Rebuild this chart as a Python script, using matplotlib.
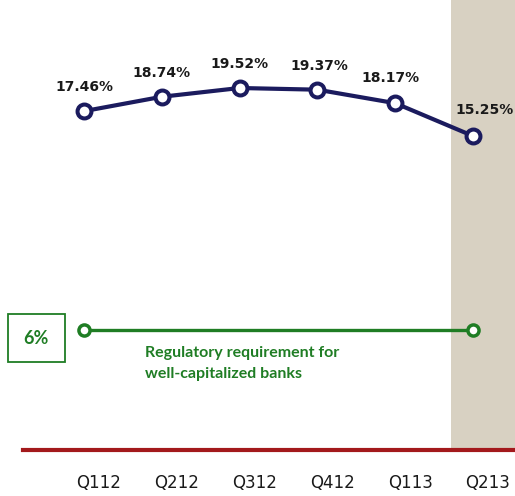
import matplotlib
matplotlib.use("Agg")
import matplotlib.pyplot as plt
import matplotlib.transforms as mtransforms
from matplotlib.patches import Rectangle

quarters = ["Q112", "Q212", "Q312", "Q412", "Q113", "Q213"]
ratio = [17.46, 18.74, 19.52, 19.37, 18.17, 15.25]
reg_x = [0, 5]
reg_y = [6, 6]
reg_label = "6%"
reg_text = "Regulatory requirement for\nwell-capitalized banks"

navy = "#1b1b5e"
green = "#1f7d24"
darkred = "#a3191c"
beige = "#d8d1c2"

fig = plt.figure(figsize=(5.15, 4.96), dpi=100)
W, H = 515, 496

# main axes: from red line up to the top of the figure
ax = fig.add_axes([23 / W, 46 / H, 492 / W, 450 / H])
ax.set_xlim(-0.784, 5.54)
ax.set_ylim(-12.69, 27.35)
ax.axvspan(4.717, 5.54, color=beige, zorder=0, lw=0)

x = list(range(len(quarters)))
ax.plot(x, ratio, color=navy, lw=3, marker="o", ms=10, mfc="white",
        mec=navy, mew=2.9, zorder=3)

offsets = [(0, 24), (0, 24), (0, 24), (2, 24), (-5, 25), (12, 26)]
for xi, v, off in zip(x, ratio, offsets):
    ax.annotate(f"{v:.2f}%", (xi, v), xytext=off, textcoords="offset pixels",
                ha="center", va="center", fontsize=10, fontweight="bold",
                color="#1a1a1a")

for s in ["top", "left", "right"]:
    ax.spines[s].set_visible(False)
ax.spines["bottom"].set_color(darkred)
ax.spines["bottom"].set_linewidth(3)
ax.set_yticks([])
ax.set_xticks(x)
ax.set_xticklabels(quarters, fontsize=12, color="#1a1a1a")
ax.tick_params(axis="x", length=0, pad=17)
shift = mtransforms.ScaledTranslation(15 / 100, 0, fig.dpi_scale_trans)
for lbl in ax.get_xticklabels():
    lbl.set_transform(lbl.get_transform() + shift)
ax.patch.set_alpha(0)

# regulatory line, drawn on its own (broken) scale
ax2 = fig.add_axes([23 / W, 46 / H, 492 / W, 200 / H])
ax2.set_xlim(-0.784, 5.54)
ax2.set_ylim(0, 10)
ax2.axis("off")
ax2.plot(reg_x, reg_y, color=green, lw=2.4, marker="o", ms=8, mfc="white",
         mec=green, mew=2.5, zorder=3)
ax2.text((145 - 23) / 492, (450 - 346) / 200, reg_text, transform=ax2.transAxes,
         ha="left", va="top", fontsize=11.5, fontweight="bold", color=green,
         family=["Lato", "DejaVu Sans"], linespacing=1.6)

fig.patches.append(Rectangle((8 / W, (H - 362) / H), 57 / W, 48 / H,
                             transform=fig.transFigure, fill=False,
                             edgecolor=green, lw=1.3))
fig.text(36 / W, (H - 338) / H, reg_label, ha="center", va="center",
         fontsize=13, fontweight="bold", color=green,
         family=["Lato", "DejaVu Sans"])

fig.savefig("out.png", dpi=100)
